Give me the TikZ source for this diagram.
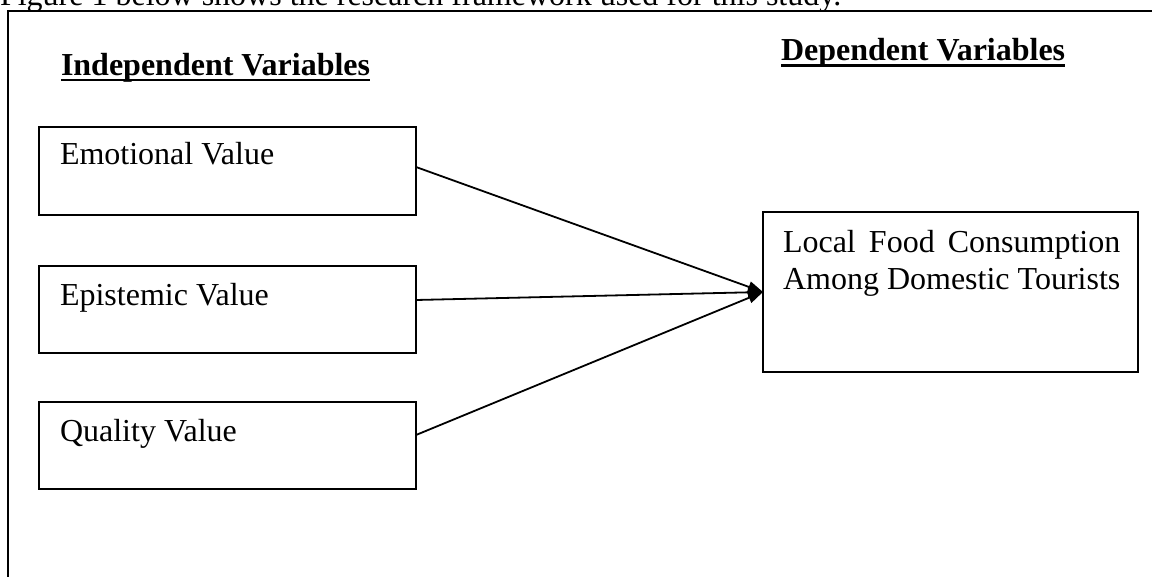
\documentclass[tikz,border=0pt]{standalone}
\usepackage{fontspec}
\setmainfont{Liberation Serif}
\usetikzlibrary{arrows.meta}
\newlength\lfw
\begin{document}
\begin{tikzpicture}[x=1pt,y=-1pt,
  box/.style={draw, line width=1.8pt, minimum width=377pt, minimum height=87pt, anchor=north west, inner sep=0pt, outer sep=0pt},
  txt/.style={inner sep=0pt, outer sep=0pt, anchor=base west, font=\fontsize{32}{37}\selectfont},
  head/.style={inner sep=0pt, outer sep=0pt, anchor=base west, font=\fontsize{32}{37}\selectfont\bfseries},
  uline/.style={line width=2.8pt},
  conn/.style={line width=1.8pt, -{Triangle[length=15pt,width=11pt]}},
  frame/.style={line width=2.2pt}
]
\useasboundingbox (0,0) rectangle (1152,577);
\begin{scope}
\clip (0,0) rectangle (1152,577);
\node[txt] (cap) at (0,6) {Figure 1 below shows the research framework used for this study.};
\coordinate (fr) at (1165,11);
\coordinate (ftl) at (8,11);
\coordinate (fb) at (8,595);
\draw[frame] (fr) -- (ftl) -- (fb);
\end{scope}

% headers
\node[head] (ind) at (61,75.5) {Independent Variables};
\draw[uline] ([yshift=-4.5pt]ind.base west) -- ([yshift=-4.5pt]ind.base east);
\node[head] (dep) at (781,61) {Dependent Variables};
\draw[uline] ([yshift=-4.5pt]dep.base west) -- ([yshift=-4.5pt]dep.base east);

% independent boxes
\node[box, minimum height=88pt] (em) at (39,127) {};
\node[txt] (emt) at (60,165) {Emotional Value};
\node[box] (ep) at (39,266) {};
\node[txt] (ept) at (60,306) {Epistemic Value};
\node[box] (qv) at (39,402) {};
\node[txt] (qvt) at (60,441.5) {Quality Value};

% dependent box
\node[box, minimum width=375pt, minimum height=160pt] (lf) at (763,212) {};
\node[txt] (lf1) at (783,253) {\settowidth\lfw{Among Domestic Tourists}\makebox[\lfw][s]{Local Food Consumption}};
\node[txt] (lf2) at (783,290) {Among Domestic Tourists};

% connectors
\draw[conn] ([yshift=4pt]em.east) -- (lf.west);
\draw[conn] ([yshift=9.5pt]ep.east) -- (lf.west);
\draw[conn] ([yshift=10.5pt]qv.east) -- (lf.west);
\end{tikzpicture}
\end{document}
